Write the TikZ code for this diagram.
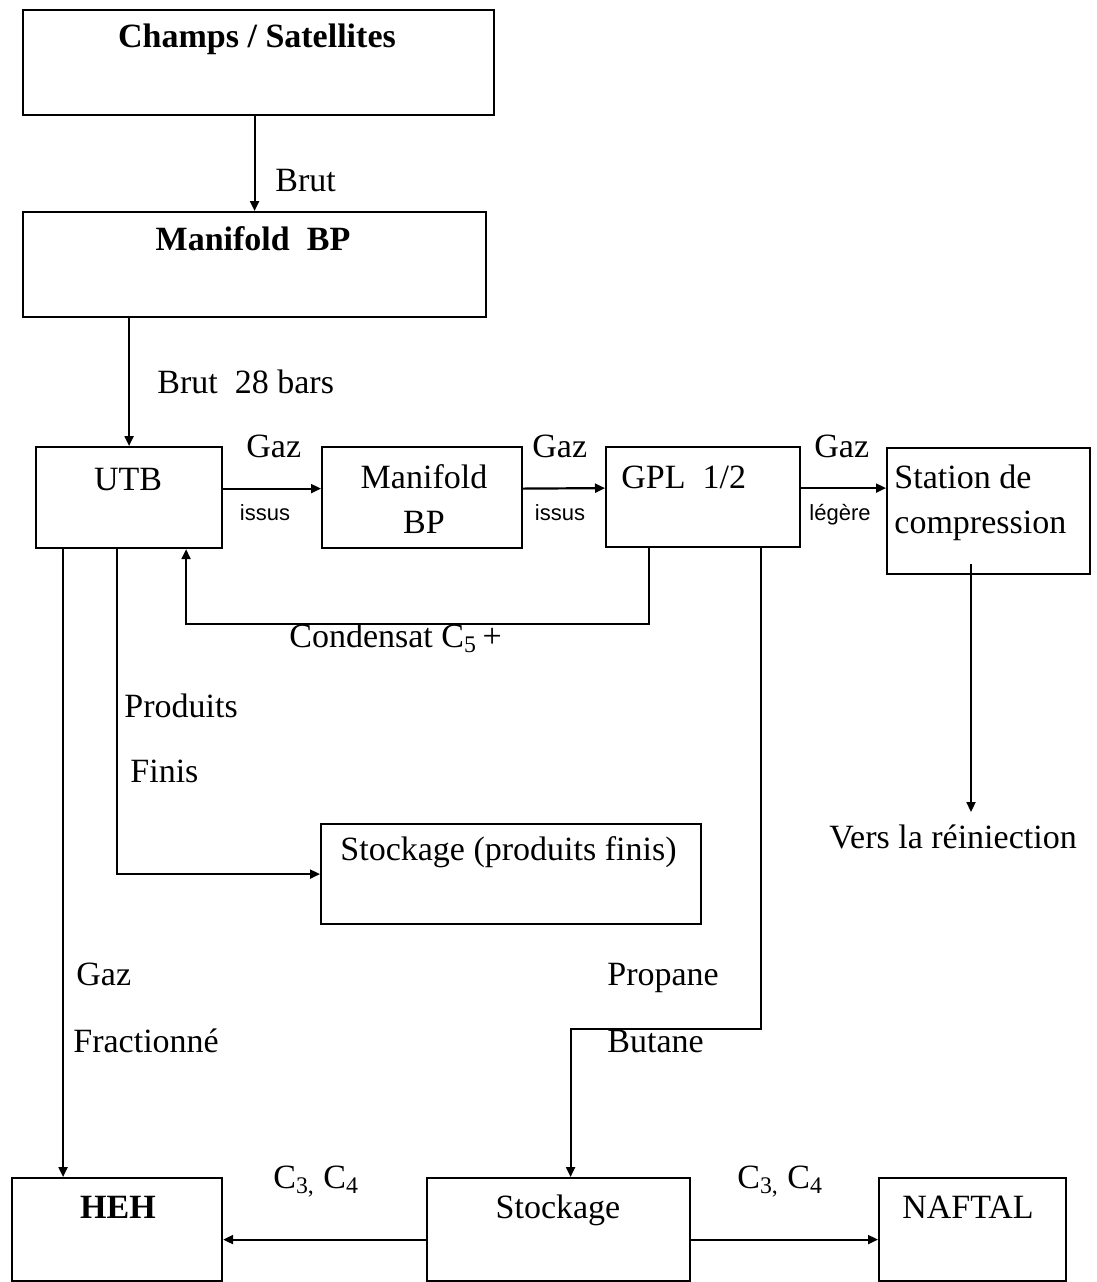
\documentclass[tikz,border=0pt]{standalone}
\usepackage{fontspec}
\setmainfont{Liberation Serif}
\newfontfamily\smallsans{Liberation Sans}
\usetikzlibrary{positioning, arrows.meta, calc}

\begin{document}
\begin{tikzpicture}[
  x=0.5pt, y=-0.5pt,
  box/.style 2 args={
    rectangle, draw=black, line width=1.1pt,
    minimum width=#1*0.5pt, minimum height=#2*0.5pt,
    inner sep=0pt, anchor=north west,
  },
  txt/.style={font=\fontsize{17}{22.5}\selectfont, inner sep=0pt, anchor=base},
  ltxt/.style={txt, anchor=base west},
  btxt/.style={txt, font=\fontsize{17}{22.5}\selectfont\bfseries},
  small/.style={font=\smallsans\fontsize{11}{13}\selectfont, inner sep=0pt, anchor=base},
  arrow/.style={-{Triangle[length=5pt, width=4.5pt]}, line width=1.1pt},
]
\useasboundingbox (0,0) rectangle (1097,1282);

% Boxes, placed at their top-left corners, text set inside.
% (two-line texts sit on the baseline of their last line)
\node[box={471}{105}] (champs)  at (22,9)     {};
\node[btxt]           (champsT) at (257,47)   {Champs / Satellites};
\node[box={463}{105}] (man1)    at (22,211)   {};
\node[btxt]           (man1T)   at (253,250)  {Manifold\ \ BP};
\node[box={186}{101}] (utb)     at (35,446)   {};
\node[txt]            (utbT)    at (128,490)  {UTB};
\node[box={200}{101}] (man2)    at (321,446)  {};
\node[txt, align=center] (man2T) at (424,533) {Manifold\\BP};
\node[box={194}{100}] (gpl)     at (605,446)  {};
\node[ltxt]           (gplT)    at (621,488)  {GPL\ \ 1/2};
\node[box={203}{126}] (station) at (886,447)  {};
\node[ltxt, align=left] (stationT) at (894,533) {Station de\\compression};
\node[box={380}{100}] (spf)     at (320,823)  {};
\node[ltxt]           (spfT)    at (340,860)  {Stockage (produits finis)};
\node[box={210}{103}] (heh)     at (11,1177)  {};
\node[btxt]           (hehT)    at (118,1218) {HEH};
\node[box={263}{103}] (stk)     at (426,1177) {};
\node[txt]            (stkT)    at (558,1218) {Stockage};
\node[box={187}{103}] (naftal)  at (878,1177) {};
\node[txt]            (naftalT) at (968,1218) {NAFTAL};

% Main line, top to bottom.
\draw[arrow] (champs.south -| man1.north) -- (man1.north);
\draw[arrow] (man1.south -| utb.north) -- (utb.north);
\draw[arrow] ($(utb.east)+(0,-9)$) -- ($(man2.west)+(0,-9)$);
\draw[arrow] ($(man2.east)+(0,-9)$) -- ($(gpl.west)+(0,-9)$);
\coordinate (gazL) at ($(gpl.east)+(0,-9)$);
\draw[arrow] (gazL) -- (gazL -| station.west);

% Reinjection and condensate return.
\coordinate (reinj) at (971,812);
\draw[arrow] ($(reinj |- station.south)+(0,-11)$) -- (reinj);
\draw[arrow] ($(gpl.south)+(-54,0)$) -- ++(0,76) -| ($(utb.south)+(57,0)$);

% Products leaving UTB and GPL.
\coordinate (gazF) at ($(utb.south)+(-66,0)$);
\draw[arrow] (gazF) -- (gazF |- heh.north);
\draw[arrow] ($(utb.south)+(-12,0)$) |- (spf.west);
\draw[arrow] ($(gpl.south)+(58,0)$) -- ++(0,481) -| ($(stk.north)+(12,0)$);
\draw[arrow] ($(stk.west)+(0,10)$) -- ($(heh.east)+(0,10)$);
\draw[arrow] ($(stk.east)+(0,10)$) -- ($(naftal.west)+(0,10)$);

% Flow labels.
\node[ltxt]  (brut)    at (275,191)  {Brut};
\node[ltxt]  (brut28)  at (157,393)  {Brut\ \ 28 bars};
\node[ltxt]  (gaz1)    at (246,457)  {Gaz};
\node[small] (issus1)  at (265,520)  {issus};
\node[ltxt]  (gaz2)    at (532,457)  {Gaz};
\node[small] (issus2)  at (560,520)  {issus};
\node[ltxt]  (gaz3)    at (814,457)  {Gaz};
\node[small] (legere)  at (840,520)  {légère};
\node[ltxt]  (reinjT)  at (829,848)  {Vers la réiniection};
\node[ltxt]  (cond)    at (289,647)  {Condensat C\textsubscript{5}\,+};
\node[ltxt]  (prod)    at (124,717)  {Produits};
\node[ltxt]  (finis)   at (130,782)  {Finis};
\node[ltxt]  (gazFr1)  at (76,985)   {Gaz};
\node[ltxt]  (gazFr2)  at (73,1052)  {Fractionné};
\node[ltxt]  (propane) at (607,985)  {Propane};
\node[ltxt]  (butane)  at (607,1052) {Butane};
\node[ltxt]  (c34a)    at (273,1188) {C\textsubscript{3,} C\textsubscript{4}};
\node[ltxt]  (c34b)    at (737,1188) {C\textsubscript{3,} C\textsubscript{4}};

\end{tikzpicture}
\end{document}
